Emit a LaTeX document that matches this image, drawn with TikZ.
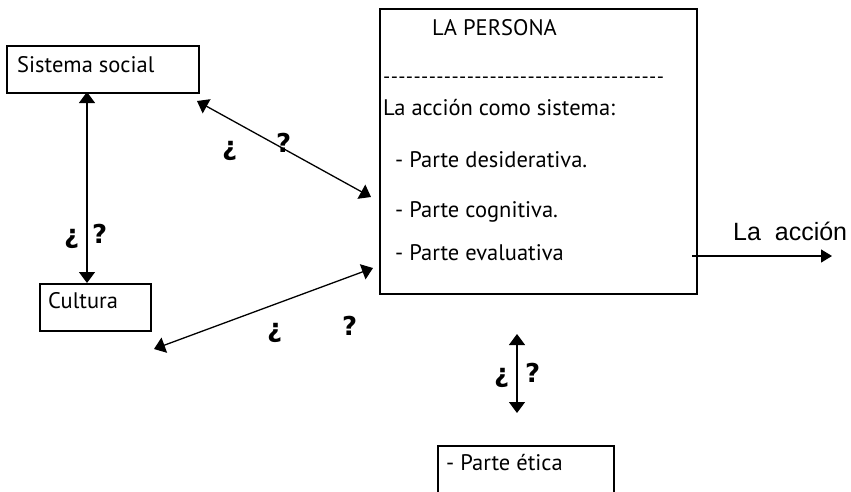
\documentclass[tikz,border=0pt]{standalone}
\usepackage{fontspec}
\setmainfont{PT Sans}
\newfontfamily\arialfont{Liberation Sans}
\newfontfamily\qfont{DejaVu Sans Bold}
\usetikzlibrary{arrows.meta}
\tikzset{
  box/.style={draw, line width=1.6pt, inner sep=0pt},
  txt/.style={anchor=base west, inner sep=0pt, font=\fontsize{22.5}{26}\selectfont},
  qm/.style={anchor=base west, inner sep=0pt, font=\fontsize{26}{30}\selectfont\qfont},
  link/.style={line width=1.3pt, {Triangle[length=11pt,width=16pt]}-{Triangle[length=11pt,width=16pt]}},
  outlink/.style={line width=1.3pt, -{Triangle[length=11pt,width=13pt]}}
}
\begin{document}
\begin{tikzpicture}[x=1pt,y=-1pt]
\useasboundingbox (0,0) rectangle (851,491);
% boxes
\node[box, minimum width=192pt, minimum height=47pt, anchor=north west] (soc) at (6,45) {};
\node[box, minimum width=111pt, minimum height=47pt, anchor=north west] (cul) at (39,283) {};
\node[box, minimum width=317pt, minimum height=285pt, anchor=north west] (per) at (379,8) {};
\node[box, minimum width=176pt, minimum height=60pt, anchor=north west] (eti) at (437,445) {};
% texts
\node[txt] (tsoc) at (17,72) {Sistema social};
\node[txt] (tcul) at (48,308) {Cultura};
\node[txt] (tper) at (432,35) {LA PERSONA};
\node[txt, font=\fontsize{20}{24}\selectfont] (tdash) at (383,83) {\foreach \i in {1,...,37}{-\kern0.4pt}};
\node[txt] (tacc) at (383,115) {La acción como sistema:};
\node[txt] (tdes) at (395,167) {- Parte desiderativa.};
\node[txt] (tcog) at (395,217) {- Parte cognitiva.};
\node[txt] (teva) at (395,260) {- Parte evaluativa};
\node[txt] (teti) at (446,470) {- Parte ética};
\node[anchor=base west, inner sep=0pt, font=\arialfont\fontsize{25}{29}\selectfont] (tla) at (733,240) {La\ \ acción};
% connectors
\coordinate (s1) at (87,92);
\coordinate (c1) at (87,283);
\draw[link] (s1) -- (c1);
\coordinate (d1a) at (197,101);
\coordinate (d1b) at (371,197);
\draw[link] (d1a) -- (d1b);
\coordinate (d2a) at (154,349);
\coordinate (d2b) at (373,268);
\draw[link] (d2a) -- (d2b);
\coordinate (v1) at (517,334);
\coordinate (v2) at (517,413);
\draw[link] (v1) -- (v2);
\coordinate (o1) at (692,256);
\coordinate (o2) at (832,256);
\draw[outlink] (o1) -- (o2);
% labels
\node[qm] (q1a) at (64,243) {¿};
\node[qm] (q1b) at (92,243) {?};
\node[qm] (q2a) at (222,155) {¿};
\node[qm] (q2b) at (276,152) {?};
\node[qm] (q3a) at (267,337) {¿};
\node[qm] (q3b) at (342,335) {?};
\node[qm] (q4a) at (494,382) {¿};
\node[qm] (q4b) at (525,382) {?};
\end{tikzpicture}
\end{document}
